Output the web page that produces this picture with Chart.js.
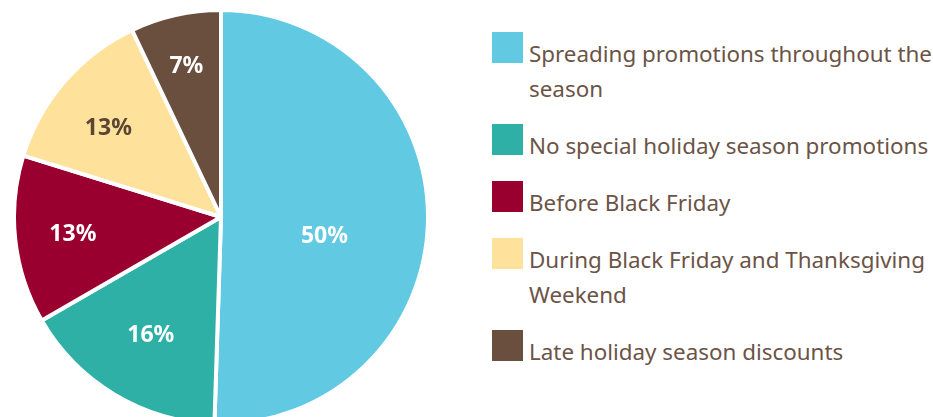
<!DOCTYPE html>
<html>
<head>
<meta charset="utf-8">
<script src="https://cdn.jsdelivr.net/npm/chart.js@4.4.0/dist/chart.umd.min.js"></script>
<style>
  html, body { margin: 0; padding: 0; background: #fff; }
  body { width: 933px; height: 417px; overflow: hidden; position: relative; font-family: "Noto Sans", sans-serif; }
  #pieBox { position: absolute; left: 12px; top: 8px; width: 418px; height: 418px; }
  #legend { position: absolute; left: 492px; top: 32px; width: 441px; }
  .item { display: flex; align-items: flex-start; margin-bottom: 18px; }
  .swatch { width: 31px; height: 31px; flex: none; }
  .txt { margin-left: 6px; margin-top: 4px; line-height: 35px; font-size: 22.4px; color: #6b5446; width: 404px; }
</style>
</head>
<body>
<div id="pieBox"><canvas id="myChart" width="418" height="418"></canvas></div>
<div id="legend"></div>
<script>
var categories = [
    "Spreading promotions throughout the season",
    "No special holiday season promotions",
    "Before Black Friday",
    "During Black Friday and Thanksgiving Weekend",
    "Late holiday season discounts"
];
var shares = [50, 16, 13, 13, 7];
var colors = ["#62c9e3", "#2eb0a6", "#990030", "#fee29c", "#6a4f3f"];
var labelColors = ["#ffffff", "#ffffff", "#ffffff", "#5b4535", "#ffffff"];

// legend on the right
var legend = document.getElementById('legend');
categories.forEach(function (name, i) {
    var item = document.createElement('div');
    item.className = 'item';
    var sw = document.createElement('div');
    sw.className = 'swatch';
    sw.style.background = colors[i];
    var t = document.createElement('div');
    t.className = 'txt';
    t.textContent = name;
    item.appendChild(sw);
    item.appendChild(t);
    legend.appendChild(item);
});

// percent labels inside the slices
var sliceLabels = {
    id: 'sliceLabels',
    afterDatasetsDraw: function (chart, args, opts) {
        var ctx = chart.ctx;
        var arcs = chart.getDatasetMeta(0).data;
        ctx.save();
        ctx.font = 'bold 23px "Noto Sans"';
        ctx.textAlign = 'center';
        ctx.textBaseline = 'middle';
        arcs.forEach(function (arc, i) {
            var mid = (arc.startAngle + arc.endAngle) / 2;
            var r = arc.outerRadius * opts.radius[i];
            var x = arc.x + Math.cos(mid) * r;
            var y = arc.y + Math.sin(mid) * r + opts.dy[i];
            ctx.fillStyle = labelColors[i];
            ctx.fillText(shares[i] + '%', x, y);
        });
        ctx.restore();
    }
};

const ctx = document.getElementById('myChart');
new Chart(ctx, {
    type: 'pie',
    data: {
        labels: categories,
        datasets: [{
            data: shares,
            backgroundColor: colors,
            borderColor: '#ffffff',
            borderWidth: 4
        }]
    },
    options: {
        responsive: false,
        animation: false,
        layout: { padding: 0 },
        plugins: {
            legend: { display: false },
            tooltip: { enabled: false },
            sliceLabels: { radius: [0.5, 0.66, 0.72, 0.72, 0.76], dy: [18, 1, 1, 9, 3] }
        }
    },
    plugins: [sliceLabels]
});
</script>
</body>
</html>
